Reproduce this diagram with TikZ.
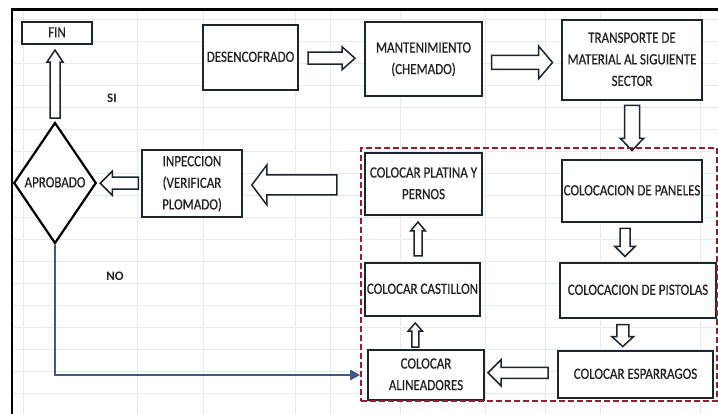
\documentclass[tikz,border=0pt]{standalone}
\usepackage{fontspec}
\setmainfont{Carlito}
\newfontfamily\boxfont[FakeBold=0.6]{Carlito}
\usepackage{graphicx}
\usetikzlibrary{calc,shapes.geometric,arrows.meta}
\definecolor{boxc}{HTML}{1C2530}
\definecolor{txtc}{HTML}{222222}
\definecolor{gridc}{HTML}{E6E9EF}
\definecolor{dred}{HTML}{9B1B30}
\definecolor{lblue}{HTML}{3D5A86}
\newcommand\tx[1]{\scalebox{1}[1.2]{\begin{tabular}{@{}c@{}}#1\end{tabular}}}
% center, angle, length, shaft, head, head length
\newcommand\barrow[6]{\draw[blockarr, shift={#1}, rotate=#2] (-#3/2,-#4/2) -- (#3/2-#6,-#4/2) -- (#3/2-#6,-#5/2) -- (#3/2,0) -- (#3/2-#6,#5/2) -- (#3/2-#6,#4/2) -- (-#3/2,#4/2) -- cycle;}
\tikzset{
  box/.style={draw=boxc, line width=1.6pt, fill=white, inner sep=0pt, text=txtc, font=\boxfont\fontsize{13}{18}\selectfont},
  blockarr/.style={draw=boxc, line width=1.5pt, fill=white, line join=miter},
  lbl/.style={text=txtc, font=\fontsize{13}{15}\selectfont\bfseries, inner sep=0pt},
  gridline/.style={draw=gridc, line width=0.7pt},
}
\begin{document}
\begin{tikzpicture}[x=1pt, y=-1pt]
\useasboundingbox (0,0) rectangle (718,414);
% spreadsheet grid
\foreach \yy in {19,41,...,415} \draw[gridline] (13,\yy) -- (718,\yy);
\foreach \xx in {23,137,203,295,330,400,485,545,600,700} \draw[gridline] (\xx,11) -- (\xx,414);
% outer frame
\draw[line width=2.4pt, black] (12,414) -- (12,9.5) -- (718,9.5);
% nodes
\node[box, minimum width=70, minimum height=22] (fin) at (57,33) {\tx{FIN}};
\node[box, minimum width=95, minimum height=65] (desenc) at (250.5,57.5) {\tx{DESENCOFRADO}};
\node[box, minimum width=117, minimum height=74] (mant) at (423.5,59) {\tx{MANTENIMIENTO\\(CHEMADO)}};
\node[box, minimum width=140, minimum height=80] (transp) at (632,60) {\tx{TRANSPORTE DE\\MATERIAL AL SIGUIENTE\\SECTOR}};
\node[box, minimum width=140, minimum height=62] (paneles) at (632,191) {\tx{COLOCACION DE PANELES}};
\node[box, minimum width=156, minimum height=55] (pistolas) at (638,290.5) {\tx{COLOCACION DE PISTOLAS}};
\node[box, minimum width=155, minimum height=47] (esparr) at (635.5,374.5) {\tx{COLOCAR ESPARRAGOS}};
\node[box, minimum width=116, minimum height=50] (alin) at (426,375) {\tx{COLOCAR\\ALINEADORES}};
\node[box, minimum width=115, minimum height=53] (castillon) at (422.5,289.5) {\tx{COLOCAR CASTILLON}};
\node[box, minimum width=117, minimum height=62] (platina) at (423.5,184) {\tx{COLOCAR PLATINA Y\\PERNOS}};
\node[box, minimum width=100, minimum height=67] (insp) at (192,183.5) {\tx{INPECCION\\(VERIFICAR\\PLOMADO)}};
\node[diamond, draw=black, line width=2.2pt, fill=white, inner sep=0pt, minimum width=80, minimum height=121, text=txtc, font=\boxfont\fontsize{13}{18}\selectfont] (aprob) at (55,183) {\tx{APROBADO}};
\node[lbl] (si) at (112,98) {SI};
\node[lbl] (no) at (115,276) {NO};
% block arrows
\barrow{($(desenc.east)!0.5!(mant.west)$)}{0}{47}{12}{23}{13}
\barrow{($(mant.east)!0.5!(transp.west)+(0,3)$)}{0}{61}{14}{33}{14}
\barrow{($(transp.south)!0.5!(paneles.north)+(0,-2)$)}{-90}{45}{15}{23}{12}
\barrow{($(paneles.south)!0.5!(pistolas.north)+(-10,0)$)}{-90}{28}{10}{20}{10}
\barrow{($(pistolas.south)!0.5!(esparr.north)+(-14,1)$)}{-90}{22}{12}{22}{10}
\barrow{($(esparr.west)!0.5!(alin.east)+(-3,-2)$)}{180}{60}{11}{26}{13}
\barrow{($(alin.north)!0.5!(castillon.south)+(-9,2)$)}{90}{24}{7}{14}{8}
\barrow{($(castillon.north)!0.5!(platina.south)+(-5,0)$)}{90}{34}{8}{15}{9}
\barrow{($(insp.west)!0.5!(aprob.east)+(0,0)$)}{180}{38}{12}{24}{12}
\barrow{($(aprob.north)!0.5!(fin.south)+(-1,1)$)}{90}{68}{10}{16}{12}
% dashed group
\node[draw=dred, dash pattern=on 6pt off 3pt, line width=2.2pt, minimum width=356, minimum height=253, inner sep=0pt] (grupo) at (539,274.5) {};
\barrow{($(grupo.west|-insp.east)!0.5!(insp.east)+(-7,1.5)$)}{180}{85}{20}{40}{15}
% NO connector
\draw[lblue, line width=2.8pt, -{Triangle[length=10pt,width=10pt]}, shorten >=7pt] (aprob.south) |- (alin.west);
\end{tikzpicture}
\end{document}
